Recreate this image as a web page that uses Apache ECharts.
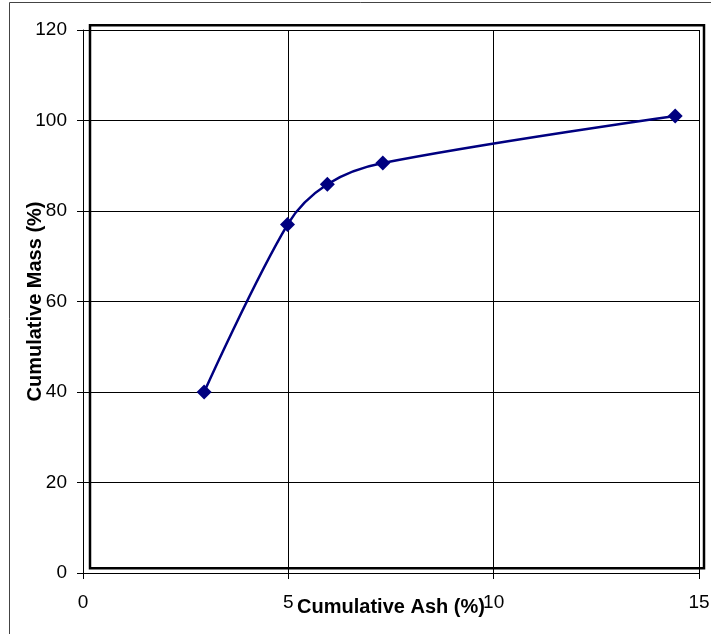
<!DOCTYPE html>
<html>
<head>
<meta charset="utf-8">
<script src="https://cdn.jsdelivr.net/npm/echarts@6/dist/echarts.min.js"></script>
<style>
html,body{margin:0;padding:0;background:#fff;}
#chart{width:711px;height:634px;}
</style>
</head>
<body>
<div id="chart"></div>
<script>
// Data
const cumulativeAsh = [2.95, 4.98, 5.95, 7.3, 14.42];
const cumulativeMass = [40.0, 77.0, 85.9, 90.6, 101.0];
const xTicks = { min: 0, max: 15, interval: 5 };
const yTicks = { min: 0, max: 120, interval: 20 };
const xTitle = 'Cumulative Ash (%)';
const yTitle = 'Cumulative Mass (%)';

const points = cumulativeAsh.map((x, i) => [x, cumulativeMass[i]]);
const FONT = '"Liberation Sans", Arial, sans-serif';

const chart = echarts.init(document.getElementById('chart'), null, { renderer: 'canvas' });
chart.setOption({
  animation: false,
  backgroundColor: '#fff',
  grid: { left: 83, top: 30, right: 12, bottom: 61, containLabel: false, outerBoundsMode: 'none' },
  graphic: [
    { type: 'rect', silent: true, z: 0,
      shape: { x: 9.5, y: 2.5, width: 800, height: 700 },
      style: { fill: null, stroke: '#444', lineWidth: 1 } },
    { type: 'rect', silent: true, z: 1,
      shape: { x: 90, y: 25.3, width: 614, height: 543 },
      style: { fill: null, stroke: '#000', lineWidth: 2.5 } }
  ],
  xAxis: {
    type: 'value', min: xTicks.min, max: xTicks.max, interval: xTicks.interval,
    name: xTitle, nameLocation: 'middle', nameGap: 24, nameMoveOverlap: false,
    nameTextStyle: { fontFamily: FONT, fontSize: 20, fontWeight: 'bold', color: '#000' },
    axisLine: { show: true, onZero: false, lineStyle: { color: '#000', width: 1 } },
    axisTick: { show: true, inside: false, length: 6, lineStyle: { color: '#000' } },
    axisLabel: { fontFamily: FONT, fontSize: 19, color: '#000', margin: 20 },
    splitLine: { show: true, lineStyle: { color: '#000', width: 1 } }
  },
  yAxis: {
    type: 'value', min: yTicks.min, max: yTicks.max, interval: yTicks.interval,
    name: yTitle, nameLocation: 'middle', nameGap: 38, nameRotate: 90, nameMoveOverlap: false,
    nameTextStyle: { fontFamily: FONT, fontSize: 20, fontWeight: 'bold', color: '#000' },
    axisLine: { show: true, onZero: false, lineStyle: { color: '#000', width: 1 } },
    axisTick: { show: true, inside: false, length: 6, lineStyle: { color: '#000' } },
    axisLabel: { fontFamily: FONT, fontSize: 19, color: '#000', margin: 16 },
    splitLine: { show: true, lineStyle: { color: '#000', width: 1 } }
  },
  series: [{
    type: 'line',
    data: points,
    smooth: 0.35,
    symbol: 'diamond',
    symbolSize: 15,
    itemStyle: { color: '#000080' },
    lineStyle: { color: '#000080', width: 2.5 },
    z: 5
  }]
});
</script>
</body>
</html>
